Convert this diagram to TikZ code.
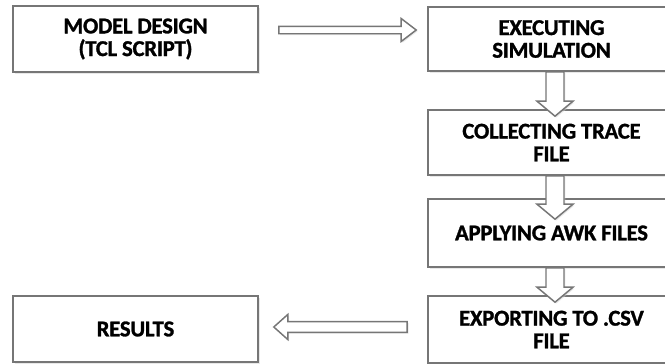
\documentclass[tikz,border=0pt]{standalone}
\usepackage{fontspec}
\setmainfont{Carlito}[BoldFeatures={FakeBold=1.2, LetterSpace=-1}]
\usetikzlibrary{calc,shadows}
\definecolor{boxgray}{HTML}{767676}
\newcommand\blockarrow[5]{%
  \coordinate (ba-h) at ($(#2)!#5!(#1)$);
  \draw[barrow] ($(#1)!#3!90:(#2)$) -- ($(ba-h)!#3!90:(#2)$) -- ($(ba-h)!#4!90:(#2)$) -- (#2)
    -- ($(ba-h)!#4!-90:(#2)$) -- ($(ba-h)!#3!-90:(#2)$) -- ($(#1)!#3!-90:(#2)$) -- cycle;}
\begin{document}
\begin{tikzpicture}[x=0.75pt,y=-0.75pt,
  box/.style={draw=boxgray, line width=1.2pt, fill=white,
    minimum width=183.75pt, minimum height=49.5pt, inner sep=0pt, align=center,
    font=\fontsize{17}{17}\selectfont\bfseries,
    drop shadow={shadow xshift=1.2pt, shadow yshift=-1.2pt, fill=black!18}},
  barrow/.style={draw=boxgray, line width=1.1pt, fill=white, line join=miter,
    drop shadow={shadow xshift=1pt, shadow yshift=-1pt, fill=black!18}}]
\useasboundingbox (0,0) rectangle (665,364);
\clip (0,0) rectangle (665,364);
\node[box] (model) at (135.5,39) {MODEL DESIGN\\(TCL SCRIPT)};
\node[box, minimum width=185.25pt, minimum height=48pt] (exec) at (551.5,39) {EXECUTING\\SIMULATION};
\node[box, minimum width=185.25pt, minimum height=48.75pt] (collect) at (551.5,142.5) {COLLECTING TRACE\\FILE};
\node[box, minimum width=185.25pt, minimum height=51pt] (apply) at (551.5,233) {APPLYING AWK FILES};
\node[box, minimum width=185.25pt, minimum height=50.25pt] (export) at (551.5,329.5) {EXPORTING TO .CSV\\FILE};
\node[box] (results) at (135.5,329) {RESULTS};
% connector end points
\coordinate (t1) at ($(model.east)+(20,-9)$);
\coordinate (t2) at ($(exec.west)+(-11,-9)$);
\coordinate (d1a) at ($(exec.south)+(3.5,0)$);
\coordinate (d1b) at ($(collect.north)+(3.5,7)$);
\coordinate (d2a) at ($(collect.south)+(3.5,0)$);
\coordinate (d2b) at ($(apply.north)+(3.5,21)$);
\coordinate (d3a) at ($(apply.south)+(3.5,0)$);
\coordinate (d3b) at ($(export.north)+(3.5,7)$);
\coordinate (b1) at ($(export.west)+(-20,-2.5)$);
\coordinate (b2) at ($(results.east)+(15,-2)$);
\blockarrow{t1}{t2}{2.8pt}{8.6pt}{11.25pt}
\blockarrow{d1a}{d1b}{6.75pt}{13.5pt}{11.25pt}
\blockarrow{d2a}{d2b}{6.75pt}{13.5pt}{11.25pt}
\blockarrow{d3a}{d3b}{6.75pt}{13.5pt}{11.25pt}
\blockarrow{b1}{b2}{4pt}{9.4pt}{10.5pt}
\end{tikzpicture}
\end{document}
